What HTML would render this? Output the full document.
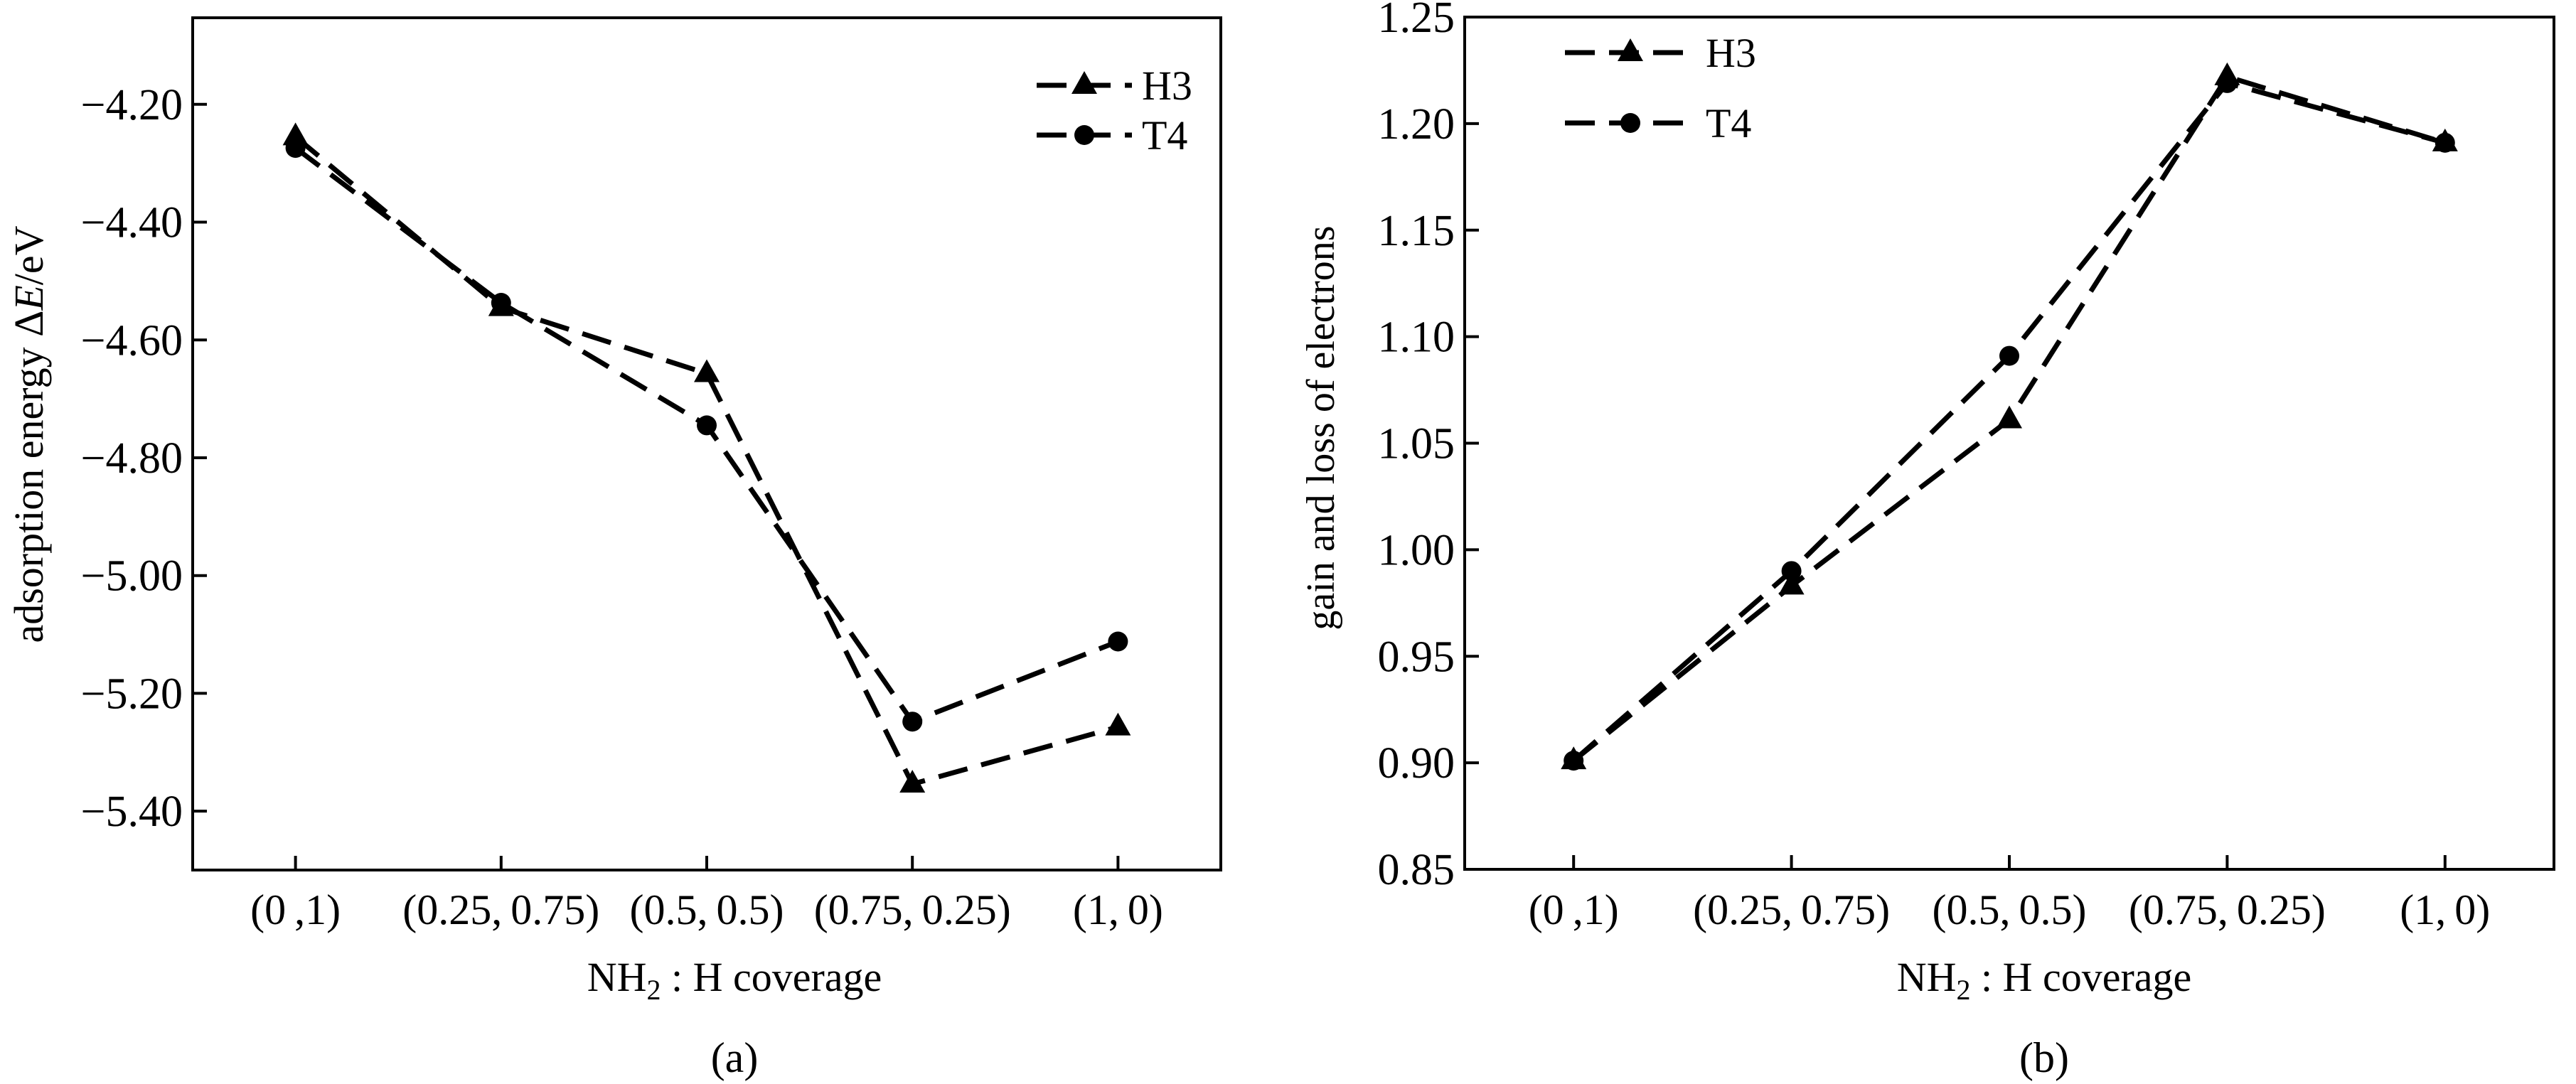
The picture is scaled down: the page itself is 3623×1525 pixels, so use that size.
<!DOCTYPE html>
<html><head><meta charset="utf-8"><style>
html,body{margin:0;padding:0;background:#fff}
svg{display:block}
text{font-family:"Liberation Serif",serif;fill:#000}
</style></head><body>
<svg id="chart" width="3623" height="1525" viewBox="0 0 3623 1525" xmlns="http://www.w3.org/2000/svg"></svg>
<script>
const categories = ["(0\u2009,1)", "(0.25,\u20090.75)", "(0.5,\u20090.5)", "(0.75,\u20090.25)", "(1,\u20090)"];
const energyH3 = [-4.255, -4.545, -4.657, -5.354, -5.257];
const energyT4 = [-4.274, -4.537, -4.745, -5.248, -5.112];
const energyTicks = [-4.20, -4.40, -4.60, -4.80, -5.00, -5.20, -5.40];
const electronH3 = [0.901, 0.983, 1.061, 1.222, 1.191];
const electronT4 = [0.901, 0.990, 1.091, 1.219, 1.191];
const electronTicks = [0.85, 0.90, 0.95, 1.00, 1.05, 1.10, 1.15, 1.20, 1.25];

const NS = "http://www.w3.org/2000/svg";
const svg = document.getElementById("chart");
function mk(tag, attrs, parent) {
  const e = document.createElementNS(NS, tag);
  for (const k in attrs) e.setAttribute(k, attrs[k]);
  (parent || svg).appendChild(e);
  return e;
}
function panel(cfg) {
  const g = mk("g", {});
  
  
  const L = cfg.left, R = cfg.right, T = cfg.top, B = cfg.bottom;
  const step = (R - L) / categories.length;
  const xs = i => L + step * (i + 0.5);
  const ys = v => T + (cfg.ymax - v) / (cfg.ymax - cfg.ymin) * (B - T);
  const frame = mk("rect", {x: L, y: T, width: R - L, height: B - T, fill: "none", stroke: "#000", "stroke-width": 4}, g);
  
  
  cfg.ticks.forEach(t => {
    const y = ys(t);
    const tk = mk("line", {x1: L, x2: L + 20, y1: y, y2: y, stroke: "#000", "stroke-width": 4}, g);
    
    
    const lb = mk("text", {x: L - 14, y: y + 21, "font-size": 62, "text-anchor": "end"}, g);
    lb.textContent = (t < 0 ? "\u2212" + Math.abs(t).toFixed(2) : t.toFixed(2));
    
    
  });
  categories.forEach((c, i) => {
    const x = xs(i);
    const tk = mk("line", {x1: x, x2: x, y1: B, y2: B - 20, stroke: "#000", "stroke-width": 4}, g);
    
    
    const lb = mk("text", {x: x, y: 1300, "font-size": 60, "text-anchor": "middle"}, g);
    lb.textContent = c;
    
    
  });
  const yt = mk("text", {x: 0, y: 0, "font-size": cfg.ytSize, "text-anchor": "middle", transform: `translate(${cfg.ytX},${cfg.ytY}) rotate(-90)`}, g);
  yt.innerHTML = cfg.ytitle;
  
  
  const xt = mk("text", {x: cfg.xtX, y: 1394, "font-size": 58, "text-anchor": "middle"}, g);
  xt.innerHTML = 'NH<tspan font-size="40" dy="12">2</tspan><tspan dy="-12"> : H coverage</tspan>';
  
  
  const cap = mk("text", {x: cfg.xtX, y: 1508, "font-size": 60, "text-anchor": "middle"}, g);
  cap.textContent = cfg.caption;
  
  
  function series(vals, marker, nm) {
    const pts = vals.map((v, i) => xs(i) + "," + ys(v)).join(" ");
    const pl = mk("polyline", {points: pts, fill: "none", stroke: "#000", "stroke-width": 7, "stroke-dasharray": "42 20"}, g);
    
    
    vals.forEach((v, i) => drawMarker(xs(i), ys(v), marker, nm + '-point'));
  }
  function drawMarker(x, y, marker, nm) {
    let m;
    if (marker === "tri") m = mk("polygon", {points: `${x},${y - 20} ${x - 18},${y + 12} ${x + 18},${y + 12}`, fill: "#000"}, g);
    else m = mk("circle", {cx: x, cy: y, r: 14, fill: "#000"}, g);
    
    
  }
  series(cfg.h3, "tri", "h3");
  series(cfg.t4, "circ", "t4");
  [["H3", "tri", cfg.legY[0]], ["T4", "circ", cfg.legY[1]]].forEach(([lbl, mkr, y]) => {
    const ll = mk("line", {x1: cfg.legX[0], x2: cfg.legX[1], y1: y, y2: y, stroke: "#000", "stroke-width": 7, "stroke-dasharray": "42 20"}, g);
    
    
    drawMarker((cfg.legX[0] + cfg.legX[1]) / 2, y, mkr, 'legend-marker-' + lbl.toLowerCase());
    const tx = mk("text", {x: cfg.legX[1] + 14, y: y + 20, "font-size": 58}, g);
    tx.textContent = lbl;
    
    
  });
}
panel({name: "panel-a-adsorption-energy", left: 271, right: 1717, top: 25, bottom: 1224,
  ymin: -5.5, ymax: -4.053, ticks: energyTicks, h3: energyH3, t4: energyT4,
  ytitle: 'adsorption energy \u0394<tspan font-style="italic">E</tspan>/eV', ytSize: 58, ytX: 60, ytY: 611,
  xtX: 1033, caption: "(a)", legX: [1458, 1592], legY: [120, 190]});
panel({name: "panel-b-electron-transfer", left: 2060, right: 3592, top: 24, bottom: 1223,
  ymin: 0.85, ymax: 1.25, ticks: electronTicks, h3: electronH3, t4: electronT4,
  ytitle: 'gain and loss of electrons', ytSize: 56, ytX: 1876, ytY: 602,
  xtX: 2875, caption: "(b)", legX: [2201, 2385], legY: [74, 173]});
</script>
</body></html>
